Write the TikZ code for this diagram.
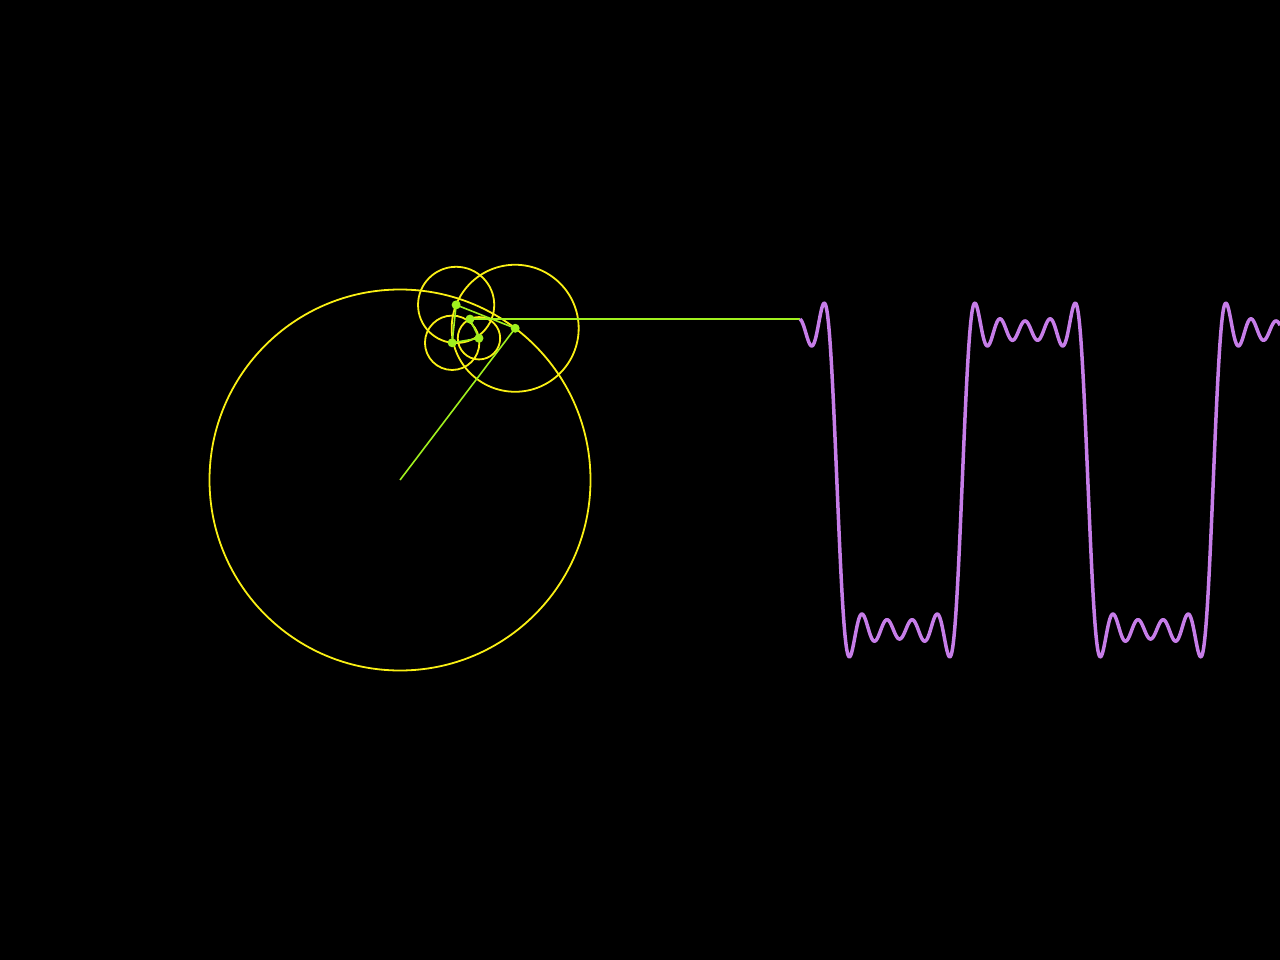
\documentclass[tikz,border=0pt]{standalone}
\usetikzlibrary{calc}
\definecolor{circyellow}{RGB}{250,240,20}
\definecolor{armlime}{RGB}{160,240,30}
\definecolor{wavepurple}{RGB}{198,125,232}
\tikzset{
  epicircle/.style={draw=circyellow, line width=1.8pt},
  arm/.style={draw=armlime, line width=1.6pt},
  joint/.style={fill=armlime},
  wave/.style={draw=wavepurple, line width=3.5pt, line join=round},
  declare function={
    ph(\x)=52.8-(\x-800)*1.4343;
    sq(\x)=480-190.5*(sin(ph(\x))+sin(3*ph(\x))/3+sin(5*ph(\x))/5+sin(7*ph(\x))/7+sin(9*ph(\x))/9);
  }
}
\begin{document}
\begin{tikzpicture}[x=1pt,y=-1pt]
\fill[black] (0,0) rectangle (1280,960);
\useasboundingbox (0,0) rectangle (1280,960);
\def\th{52.8}
\coordinate (c0) at (400,480);
\coordinate (c1) at ($(c0)+(-\th:190.5)$);
\coordinate (c2) at ($(c1)+({-3*\th}:63.5)$);
\coordinate (c3) at ($(c2)+({-5*\th}:38.1)$);
\coordinate (c4) at ($(c3)+({-7*\th}:27.2)$);
\coordinate (c5) at ($(c4)+({-9*\th}:21.2)$);
\coordinate (w0) at (800,480);
% circles
\draw[epicircle] (c0) circle[radius=190.5];
\draw[epicircle] (c1) circle[radius=63.5];
\draw[epicircle] (c2) circle[radius=38.1];
\draw[epicircle] (c3) circle[radius=27.2];
\draw[epicircle] (c4) circle[radius=21.2];
% arms
\draw[arm] (c0) -- (c1) -- (c2) -- (c3) -- (c4) -- (c5);
\draw[arm] (c5) -- (c5 -| w0);
% joints
\foreach \p in {c1,c2,c3,c4,c5} \fill[joint] (\p) circle[radius=4.5];
% wave
\draw[wave] plot[domain=800:1280, samples=700, smooth] (\x,{sq(\x)});
\end{tikzpicture}
\end{document}
